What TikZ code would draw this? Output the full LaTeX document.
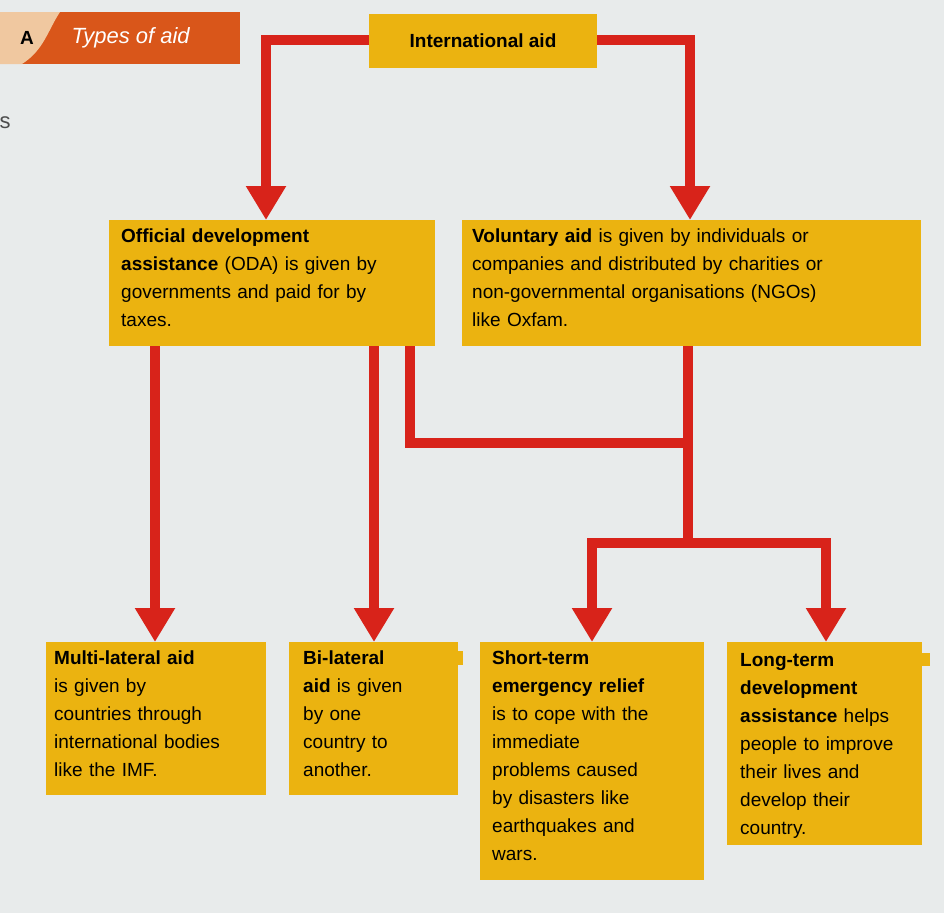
\documentclass[tikz,border=0pt]{standalone}
\usepackage{fontspec}
\setmainfont{Liberation Sans}
\usetikzlibrary{arrows.meta}
\definecolor{bg}{HTML}{E8EBEB}
\definecolor{boxy}{HTML}{EBB310}
\definecolor{redl}{HTML}{D8231A}
\definecolor{tagor}{HTML}{D9561A}
\definecolor{tagpk}{HTML}{F0C8A0}
\begin{document}
\begin{tikzpicture}[x=1pt,y=-1pt,
  bx/.style={fill=boxy,anchor=north west,align=left,inner sep=0pt,font=\fontsize{19}{28}\selectfont,text depth=0pt},
  ln/.style={draw=redl,line width=10pt},
  ar/.style={ln,-{Triangle[width=38pt,length=34pt]}}]
\fill[bg] (0,0) rectangle (944,913);
\useasboundingbox (0,0) rectangle (944,913);
% tag
\fill[tagor] (0,12) rectangle (240,64);
\fill[tagpk] (0,12) -- (60,12) .. controls (48,30) and (44,50) .. (22,64) -- (0,64) -- cycle;
\node[font=\bfseries\fontsize{19}{22}\selectfont] (ta) at (27,38) {A};
\node[font=\itshape\fontsize{22}{26}\selectfont,text=white,anchor=west] (tt) at (68,38) {Types of aid};
\node[font=\fontsize{22}{26}\selectfont,text=black!70,anchor=west] (ss) at (-4,123) {s};
% boxes
\fill[boxy] (369,14) rectangle (597,68);
\node[font=\bfseries\fontsize{19}{22}\selectfont] (ia) at (483,41) {International aid};
\fill[boxy] (109,220) rectangle (435,346);
\coordinate (oda) at (109,220);
\node[bx,text width=300pt] (odat) at (121,229) {\textbf{Official development}\\\textbf{assistance} (ODA) is given by\\governments and paid for by\\taxes.};
\fill[boxy] (462,220) rectangle (921,346);
\node[bx,text width=440pt] (vat) at (472,229) {\textbf{Voluntary aid} is given by individuals or\\companies and distributed by charities or\\non-governmental organisations (NGOs)\\like Oxfam.};
\fill[boxy] (46,642) rectangle (266,795);
\node[bx,text width=210pt] (mt) at (54,651) {\textbf{Multi-lateral aid}\\is given by\\countries through\\international bodies\\like the IMF.};
\fill[boxy] (289,642) rectangle (458,795);
\node[bx,text width=160pt] (bt) at (303,651) {\textbf{Bi-lateral}\\\textbf{aid} is given\\by one\\country to\\another.};
\fill[boxy] (480,642) rectangle (704,880);
\node[bx,text width=210pt] (st) at (492,651) {\textbf{Short-term}\\\textbf{emergency relief}\\is to cope with the\\immediate\\problems caused\\by disasters like\\earthquakes and\\wars.};
\fill[boxy] (727,642) rectangle (922,845);
\node[bx,text width=190pt] (lt) at (740,653) {\textbf{Long-term}\\\textbf{development}\\\textbf{assistance} helps\\people to improve\\their lives and\\develop their\\country.};
% connectors
\coordinate (iaL) at (369,40); \coordinate (iaR) at (597,40);
\draw[ar] (iaL) -- (266,40) -- (266,220);
\draw[ar] (iaR) -- (690,40) -- (690,220);
\draw[ar] (155,346) -- (155,642);
\draw[ar] (374,346) -- (374,642);
\draw[ln] (410,346) -- (410,443) -- (693,443);
\draw[ln] (688,346) -- (688,543);
\draw[ar] (688,543) -- (592,543) -- (592,642);
\draw[ar] (683,543) -- (826,543) -- (826,642);
\end{tikzpicture}
\end{document}
